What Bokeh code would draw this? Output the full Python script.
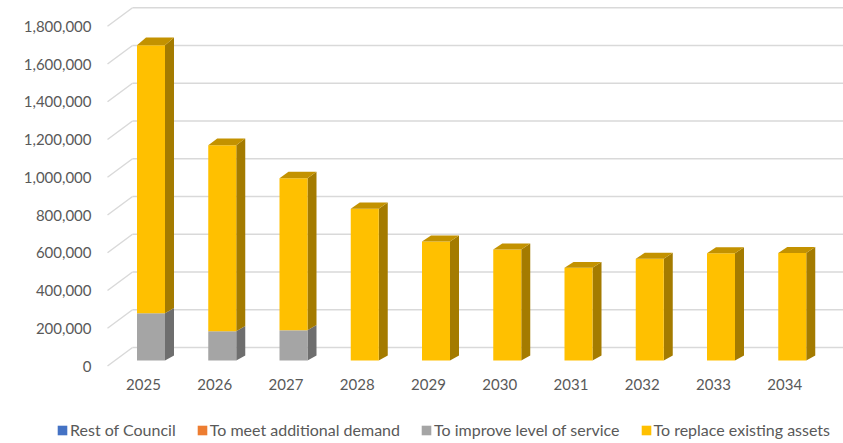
from bokeh.plotting import figure
from bokeh.models import Range1d, Legend, LegendItem, ColumnDataSource
from bokeh.core.properties import value
from bokeh.embed import file_html
from bokeh.resources import INLINE

# ---------------- data ----------------
years = ["2025", "2026", "2027", "2028", "2029", "2030", "2031", "2032", "2033", "2034"]
rest_of_council = [0, 0, 0, 0, 0, 0, 0, 0, 0, 0]
additional_demand = [0, 0, 0, 0, 0, 0, 0, 0, 0, 0]
improve_service = [250000, 155000, 160000, 0, 0, 0, 0, 0, 0, 0]
replace_assets = [1420000, 985000, 805000, 804000, 630000, 588000, 491000, 539000, 568000, 570000]
y_ticks = [0, 200000, 400000, 600000, 800000, 1000000, 1200000, 1400000, 1600000, 1800000]
series_names = ["Rest of Council", "To meet additional demand",
                "To improve level of service", "To replace existing assets"]

# ---------------- styles ----------------
front_cols = ["#4472C4", "#ED7D31", "#A5A5A5", "#FFC000"]
side_cols = ["#2E4F8A", "#A5571F", "#6E6E6E", "#A47B00"]
top_cols = ["#3A62A8", "#C96A28", "#8A8A8A", "#C39200"]
text_col = "#595959"
grid_col = "#D9D9D9"
FONT = "Lato"

W, H = 843, 443
PX = 200000 / 37.75                    # value units per pixel
SP = 71.25                             # px per category
c0 = 150.5                             # px of first bar centre
base_px = 360                          # px of bar front bottom (from top)

x_start = -c0 / SP
x_end = (W - c0) / SP
y_start = -(H - base_px) * PX
y_end = base_px * PX

p = figure(width=W, height=H, output_backend="svg", toolbar_location=None,
           x_range=Range1d(x_start, x_end), y_range=Range1d(y_start, y_end),
           x_axis_location=None, y_axis_location=None,
           min_border_left=0, min_border_right=0, min_border_top=0, min_border_bottom=0)
p.outline_line_color = None
p.grid.visible = False
p.background_fill_color = "white"
p.border_fill_color = "white"

front_shift_y = (365.5 - base_px) * PX   # front plane (labels) offset
front_shift_x = 7.5 / SP

# ---------------- back wall gridlines ----------------
back_dy = 13 * PX
wall_x = (132 - c0) / SP
front_x = (107 - c0) / SP
for v in y_ticks:
    p.line([wall_x, x_end], [v + back_dy, v + back_dy], line_color=grid_col, line_width=1.5)
    p.line([front_x, wall_x], [v - front_shift_y, v + back_dy], line_color=grid_col, line_width=1.5)

# ---------------- 3D bars ----------------
w = 28 / SP
dx = 9 / SP
def dy(v):
    return (5 + 0.009 * (v / PX)) * PX

series = [rest_of_council, additional_demand, improve_service, replace_assets]
for i in range(len(years)):
    bottom = 0
    total = sum(s[i] for s in series)
    for k, s in enumerate(series):
        val = s[i]
        if val <= 0:
            continue
        top = bottom + val
        xl, xr = i - w / 2, i + w / 2
        p.patch([xr, xr + dx, xr + dx, xr],
                [bottom, bottom + dy(bottom), top + dy(top), top],
                fill_color=side_cols[k], line_color=None)
        p.quad(left=[xl], right=[xr], bottom=[bottom], top=[top],
               fill_color=front_cols[k], line_color=None)
        if top >= total:
            p.patch([xl, xl + dx, xr + dx, xr],
                    [top, top + dy(top), top + dy(top), top],
                    fill_color=top_cols[k], line_color=None)
        bottom = top

# ---------------- tick labels ----------------
ylab_x = (91 - c0) / SP
p.text(x=[ylab_x] * len(y_ticks), y=[v - front_shift_y for v in y_ticks],
       text=["{:,}".format(v) for v in y_ticks],
       text_align="right", text_baseline="middle", text_font=value(FONT),
       text_font_size="15px", text_color=text_col)

label_y = (base_px - 384) * PX
p.text(x=[i - front_shift_x for i in range(len(years))], y=[label_y] * len(years), text=years,
       text_align="center", text_baseline="middle", text_font=value(FONT),
       text_font_size="15px", text_color=text_col)

# ---------------- legend ----------------
items = []
for k, name in enumerate(series_names):
    src = ColumnDataSource(dict(l=[x_end + 1], r=[x_end + 2], b=[0], t=[1]))
    rr = p.quad(left="l", right="r", bottom="b", top="t", source=src,
                fill_color=front_cols[k], line_color=None)
    items.append(LegendItem(label=name, renderers=[rr]))
legend = Legend(items=items, orientation="horizontal", location=(56, 4),
                label_text_font=FONT, label_text_font_size="16px",
                label_text_color=text_col, glyph_width=12, glyph_height=12,
                label_standoff=2, spacing=20, padding=0, margin=0,
                border_line_color=None, background_fill_alpha=0)
p.add_layout(legend)

open("out.html", "w").write(file_html(p, INLINE))
